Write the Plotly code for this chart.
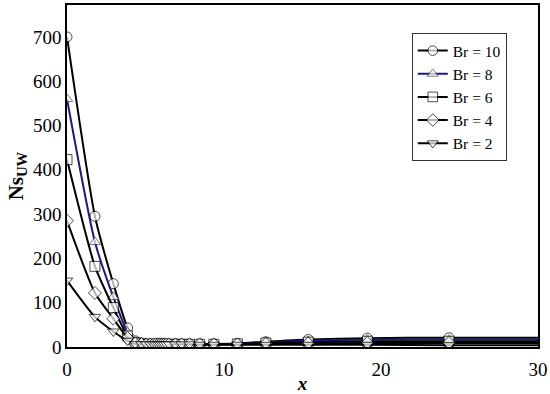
import plotly.graph_objects as go

x_vals = [0, 1.78, 2.95, 3.86, 4.35, 4.75, 5.05, 5.3, 5.5, 5.65, 5.8, 5.92, 6.05,
          6.18, 6.32, 6.5, 6.9, 7.3, 7.8, 8.45, 9.35, 10.85, 12.67, 15.37, 19.13, 24.33, 30]

br10 = [700, 295, 143, 43, 14, 9, 7, 6, 6, 6, 6, 6, 6, 6, 6, 6, 7, 7, 7, 7, 7, 8, 12, 17, 20, 21, 21]
br8 = [560, 237, 113, 33, 12, 8, 7, 6, 6, 6, 6, 6, 6, 6, 6, 6, 7, 7, 7, 7, 7, 7, 10, 14, 17, 17, 17]
br6 = [423, 182, 89, 25, 10, 7, 6, 6, 6, 6, 6, 6, 6, 6, 6, 6, 6, 6, 6, 6, 6, 7, 9, 11, 13, 13, 13]
br4 = [285, 122, 64, 20, 8, 7, 6, 6, 6, 6, 6, 6, 6, 6, 6, 6, 6, 6, 6, 6, 6, 6, 7, 8, 9, 9, 9]
br2 = [150, 68, 35, 14, 7, 6, 6, 6, 6, 6, 6, 6, 6, 6, 6, 6, 6, 6, 6, 5, 5, 5, 5, 5, 5, 4, 4]

names = ["Br = 10", "Br = 8", "Br = 6", "Br = 4", "Br = 2"]
series = [br10, br8, br6, br4, br2]
symbols = ["circle", "triangle-up", "square", "diamond", "triangle-down"]
colors = ["#000000", "#1a1a80", "#000000", "#000000", "#000000"]

FONT = "Liberation Serif, Times New Roman, serif"

fig = go.Figure()
n = len(x_vals)
sizes = [10] * (n - 1) + [0]
for name, ys, sym, col in zip(names, series, symbols, colors):
    fig.add_trace(go.Scatter(
        x=x_vals, y=ys, name=name, mode="lines+markers",
        line=dict(color=col, width=2, shape="spline", smoothing=0.6),
        marker=dict(symbol=sym, size=sizes, color="white",
                    line=dict(color="#000000" if col == "#000000" else "#444444", width=1)),
    ))

fig.update_layout(
    width=550, height=394,
    margin=dict(l=67, r=12, t=5, b=47),
    paper_bgcolor="white", plot_bgcolor="white",
    font=dict(family=FONT, size=18, color="black"),
    showlegend=True,
    legend=dict(x=0.732, y=0.918, xanchor="left", yanchor="top",
                bordercolor="#333333", borderwidth=1, bgcolor="white",
                font=dict(family=FONT, size=15.5), tracegroupgap=0),
    xaxis=dict(range=[0, 30], tickvals=[0, 10, 20, 30], showgrid=False, zeroline=False,
               showline=True, linecolor="black", linewidth=1.5, mirror=True, automargin=False,
               ticks="", ticklabelstandoff=4, tickfont=dict(family=FONT, size=19),
               title=dict(text="<b><i>x</i></b>", font=dict(family=FONT, size=19), standoff=0)),
    yaxis=dict(range=[0, 772], tickvals=[0, 100, 200, 300, 400, 500, 600, 700], showgrid=False,
               zeroline=False, showline=True, linecolor="black", linewidth=1.5, mirror=True,
               automargin=False, ticks="", tickfont=dict(family=FONT, size=19),
               title=dict(text="<b>Ns<sub>UW</sub></b>", font=dict(family=FONT, size=21), standoff=4)),
)

fig.write_html("out.html", config={"displayModeBar": False},
               post_script="document.body.style.margin='0';")
